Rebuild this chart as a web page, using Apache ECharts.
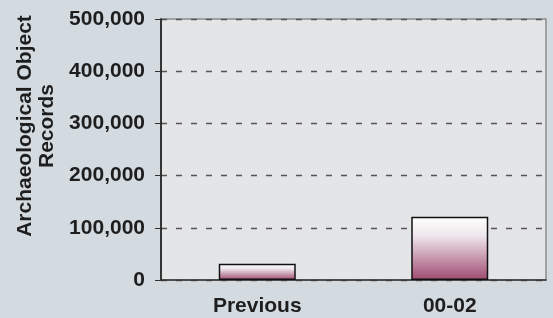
<!DOCTYPE html>
<html>
<head>
<meta charset="utf-8">
<script src="https://cdn.jsdelivr.net/npm/echarts@6/dist/echarts.min.js"></script>
<style>
  html, body { margin: 0; padding: 0; background: #d3dbe1; }
  #chart { width: 553px; height: 318px; }
</style>
</head>
<body>
<div id="chart"></div>
<script>
// data
const categories = ['Previous', '00-02']
const records = [31000, 121000]
const yTicks = [0, 100000, 200000, 300000, 400000, 500000]

const font = '"Liberation Sans", Arial, sans-serif'

const chart = echarts.init(document.getElementById('chart'))

// bars fade from white at the top to plum at the base
const barFill = new echarts.graphic.LinearGradient(0, 0, 0, 1, [
  { offset: 0, color: '#ffffff' },
  { offset: 0.3, color: '#eee6eb' },
  { offset: 1, color: '#a04a70' }
])

const option = {
  backgroundColor: '#d3dbe1',
  animation: false,
  grid: {
    left: 161,
    right: 7,
    top: 19,
    bottom: 38,
    show: true,
    backgroundColor: '#e4e5e7',
    borderColor: '#8c8c8c',
    borderWidth: 1.5
  },
  xAxis: {
    type: 'category',
    data: categories,
    axisLine: { lineStyle: { color: '#333', width: 1.5 } },
    axisTick: { length: 7, lineStyle: { color: '#333', width: 1 } },
    axisLabel: {
      margin: 16,
      color: '#1e1e1e',
      fontFamily: font,
      fontWeight: 'bold',
      fontSize: 21
    }
  },
  yAxis: {
    type: 'value',
    min: yTicks[0],
    max: yTicks[yTicks.length - 1],
    interval: yTicks[1] - yTicks[0],
    axisLine: { show: true, lineStyle: { color: '#111', width: 1.5 } },
    axisTick: { show: true, length: 6, lineStyle: { color: '#333' } },
    axisLabel: {
      margin: 16,
      color: '#1e1e1e',
      fontFamily: font,
      fontWeight: 'bold',
      fontSize: 21,
      formatter: v => v.toLocaleString('en-US')
    },
    splitLine: {
      lineStyle: { color: '#555', width: 1.3, type: [6, 9] }
    }
  },
  graphic: [{
    type: 'text',
    x: 36,
    y: 126,
    rotation: Math.PI / 2,
    style: {
      text: 'Archaeological Object\nRecords',
      font: 'bold 21px ' + font,
      fill: '#1e1e1e',
      align: 'center',
      verticalAlign: 'middle',
      lineHeight: 22
    }
  }],
  series: [{
    type: 'bar',
    data: records,
    barWidth: '40%',
    itemStyle: {
      color: barFill,
      borderColor: '#111',
      borderWidth: 1.5
    }
  }]
}

chart.setOption(option)

window.addEventListener('resize', () => {
  chart.resize()
})
</script>
</body>
</html>
